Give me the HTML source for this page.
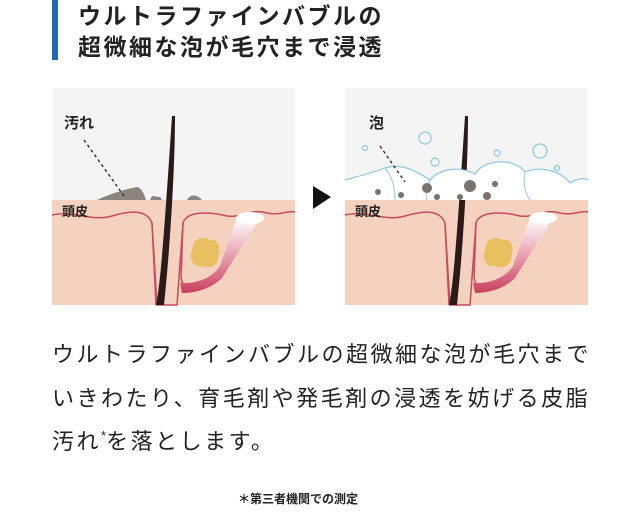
<!DOCTYPE html>
<html><head><meta charset="utf-8"><style>
body{margin:0;width:640px;height:527px;background:#fff;position:relative;overflow:hidden;font-family:"Liberation Sans","Noto Sans CJK JP",sans-serif;color:#222}
.t{position:absolute;white-space:nowrap}
</style></head><body>
<div style="position:absolute;left:52px;top:0;width:6px;height:60px;background:#1d6bb5"></div>
<div class="t" style="left:78px;top:1px;font-size:23px;font-weight:bold;letter-spacing:2.5px;line-height:31px">ウルトラファインバブルの<br>超微細な泡が毛穴まで浸透</div>

<svg style="position:absolute;left:0;top:0" width="640" height="320">
<defs>
<linearGradient id="dg" x1="0" y1="0" x2="0" y2="1"><stop offset="0" stop-color="#fff"/><stop offset="0.5" stop-color="#e8a0b0"/><stop offset="1" stop-color="#c8405e"/></linearGradient>
<g id="skin">
<rect x="0" y="0" width="243" height="217" fill="#f4f4f4"/>
<rect x="0" y="112" width="243" height="105" fill="#f5d2bf"/>
<path d="M0 127 C20 122 40 134 60 128 C80 122 95 122 100 135 L105 217 L125 217 L131 135 C135 122 160 124 175 128 C190 130 200 120 215 125 C228 128 236 122 243 124" fill="none" stroke="#c84a5c" stroke-width="1.5"/>
<path d="M100 135 L104 217 M131 135 L129 190 C131 200 140 205 150 198 L175 180" fill="none" stroke="#c84a5c" stroke-width="1.5"/>
<path d="M185 130 L208 130 L170 190 C160 200 145 205 130 205 L128 195 C145 196 160 190 168 178 Z" fill="url(#dg)"/>
<ellipse cx="198" cy="130" rx="14" ry="6" fill="#fff"/>
<path d="M141 160 C140 150 152 148 158 152 C166 150 170 160 166 168 C168 176 158 182 150 178 C140 180 136 168 141 160 Z" fill="#e8c060"/>
<path d="M104 217 C108 200 112 150 120 28 L123 28 C123 80 118 160 112 217 Z" fill="#2a1a18"/>
</g>
</defs>
<g transform="translate(52,88)">
<use href="#skin"/>
<path d="M45 112 C60 105 75 101 85 99 C90 100 92 106 94 112 Z" fill="#8b847c"/>
<path d="M98 112 L100 108 L108 109 L110 112 Z" fill="#8b847c"/>
<path d="M135 112 C138 106 145 106 150 112 Z" fill="#8b847c"/>
<path d="M32 52 L72 108" stroke="#222" stroke-width="1.3" stroke-dasharray="3,3"/>
<text x="12" y="40" font-size="15" font-weight="bold" font-family="Liberation Sans,Noto Sans CJK JP,sans-serif" fill="#222">汚れ</text>
<text x="10" y="128" font-size="13" font-weight="bold" font-family="Liberation Sans,Noto Sans CJK JP,sans-serif" fill="#222">頭皮</text>
</g>
<polygon points="313,186 331,197 313,209" fill="#111"/>
<g transform="translate(345,88)">
<use href="#skin"/>
<path d="M0 112 L0 92 C15 88 30 84 40 80 C55 75 70 82 85 92 C95 80 115 78 130 86 C140 70 170 70 180 84 C195 78 215 82 225 95 C233 90 240 90 243 92 L243 112 Z" fill="#fff"/>
<path d="M0 92 C15 88 30 84 40 80 C55 75 70 82 85 92 C95 80 115 78 130 86 C140 70 170 70 180 84 C195 78 215 82 225 95 C233 90 240 90 243 92" fill="none" stroke="#8ec8e0" stroke-width="1.2"/>
<path d="M40 80 C48 90 50 100 50 112 M85 92 C82 100 80 106 82 112 M180 84 C178 95 180 105 185 112" fill="none" stroke="#8ec8e0" stroke-width="1"/>
<g fill="none" stroke="#8ec8e0" stroke-width="1.2"><circle cx="80" cy="50" r="6"/><circle cx="90" cy="74" r="4"/><circle cx="195" cy="63" r="7"/><circle cx="152" cy="65" r="3"/><circle cx="20" cy="60" r="2.5"/><circle cx="212" cy="80" r="2.5"/></g>
<g fill="#7a726c"><circle cx="33" cy="104" r="3"/><circle cx="56" cy="107" r="3"/><circle cx="82" cy="100" r="5"/><circle cx="92" cy="109" r="3"/><circle cx="115" cy="109" r="3"/><circle cx="125" cy="98" r="6"/><circle cx="142" cy="108" r="4"/><circle cx="150" cy="96" r="3"/></g>
<path d="M35 58 L60 94" stroke="#222" stroke-width="1.3" stroke-dasharray="3,3"/>
<text x="24" y="40" font-size="15" font-weight="bold" font-family="Liberation Sans,Noto Sans CJK JP,sans-serif" fill="#222">泡</text>
<text x="10" y="128" font-size="13" font-weight="bold" font-family="Liberation Sans,Noto Sans CJK JP,sans-serif" fill="#222">頭皮</text>
</g>
</svg>

<div class="t" style="left:52px;top:333px;font-size:22px;letter-spacing:2.5px;line-height:43.5px">ウルトラファインバブルの超微細な泡が毛穴まで<br>いきわたり、育毛剤や発毛剤の浸透を妨げる皮脂<br>汚れ<sup style="font-size:13px;letter-spacing:0;vertical-align:9px;line-height:0">*</sup>を落とします。</div>
<div class="t" style="left:238px;top:490px;font-size:12px;font-weight:bold">＊第三者機関での測定</div>
</body></html>
